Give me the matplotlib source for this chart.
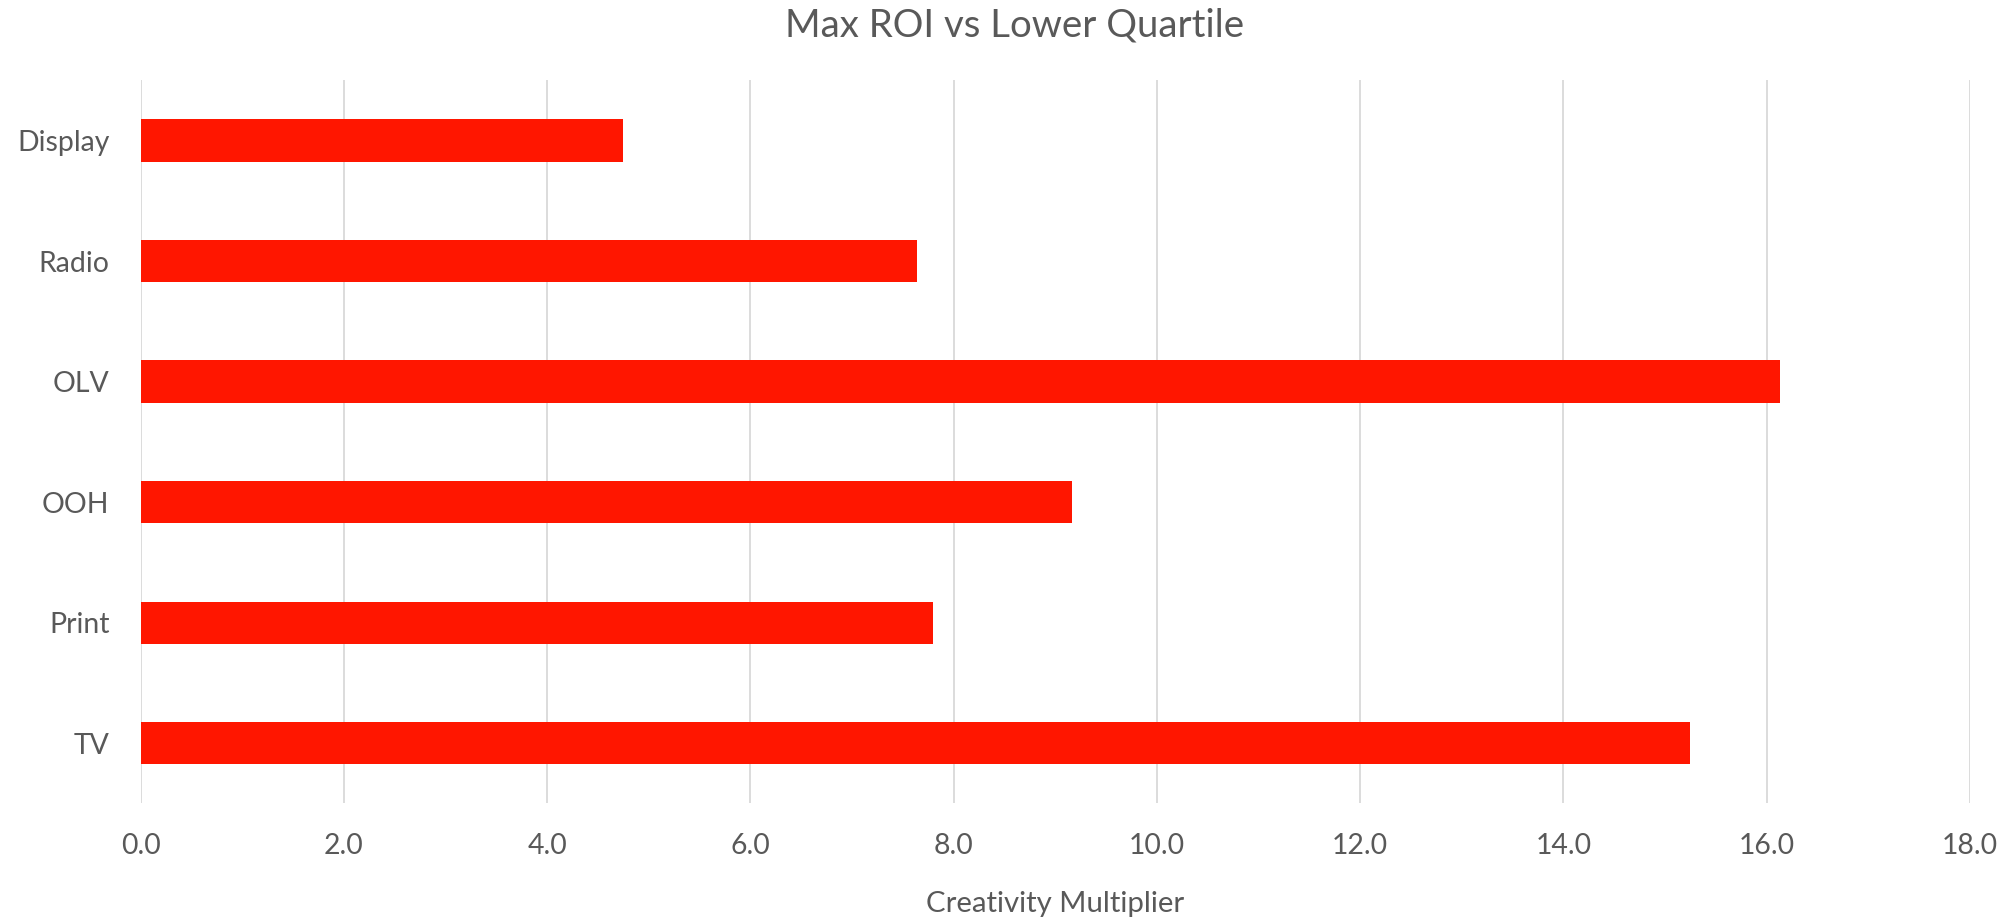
import matplotlib
matplotlib.use("Agg")
import matplotlib.pyplot as plt

# ---- data ----
categories = ["Display", "Radio", "OLV", "OOH", "Print", "TV"]   # top to bottom
values = [4.75, 7.64, 16.13, 9.16, 7.80, 15.24]
xticks = [0, 2, 4, 6, 8, 10, 12, 14, 16, 18]
xtick_labels = ["0.0", "2.0", "4.0", "6.0", "8.0", "10.0", "12.0", "14.0", "16.0", "18.0"]
title = "Max ROI vs Lower Quartile"
xlabel = "Creativity Multiplier"

W, H, DPI = 2013, 920, 100
FONT = "Lato"
TXT = "#595959"
BAR = "#FF1600"
GRID = "#D9D9D9"

fig = plt.figure(figsize=((W + 0.01) / DPI, (H + 0.01) / DPI), dpi=DPI)
fig.patch.set_facecolor("white")
renderer = fig.canvas.get_renderer()


def fit_size(text, target_px):
    t = fig.text(0, 0, text, fontsize=10, family=FONT)
    w = t.get_window_extent(renderer).width
    t.remove()
    return 10 * target_px / w


tick_fs = fit_size("Display", 92)
title_fs = fit_size(title, 456)
xlabel_fs = fit_size(xlabel, 259)

left, right = 140.7, 1970
top, bottom = 80.3, 803.5
ax = fig.add_axes([left / W, 1 - bottom / H, (right - left) / W, (bottom - top) / H])

ypos = list(range(len(categories)))
ax.barh(ypos, values, height=0.351, color=BAR, zorder=3)

ax.set_xlim(0, 18)
ax.set_ylim(len(categories) - 0.5, -0.5)
ax.set_xticks(xticks)
ax.set_xticklabels(xtick_labels)
ax.set_yticks(ypos)
ax.set_yticklabels(categories)

for s in ax.spines.values():
    s.set_visible(False)
ax.grid(axis="x", color=GRID, linewidth=1.3, zorder=0)
ax.grid(axis="y", visible=False)
ax.set_axisbelow(True)

ax.tick_params(axis="both", length=0, labelcolor=TXT, labelsize=tick_fs)
ax.tick_params(axis="y", pad=(left - 109.5) * 72 / DPI)
ax.tick_params(axis="x", pad=(854 - bottom) * 72 / DPI)
for lbl in ax.get_xticklabels():
    lbl.set_fontfamily(FONT)
    lbl.set_va("baseline")
for lbl in ax.get_yticklabels():
    lbl.set_fontfamily(FONT)

ax.set_xlabel(xlabel, fontsize=xlabel_fs, color=TXT, family=FONT, va="baseline")
ax.xaxis.set_label_coords(0.5, (bottom - 912) / (bottom - top))

fig.text(1014.7 / W, 1 - 36.7 / H, title, fontsize=title_fs, color=TXT,
         family=FONT, ha="center", va="baseline")

fig.savefig("out.png", dpi=DPI, facecolor="white")
